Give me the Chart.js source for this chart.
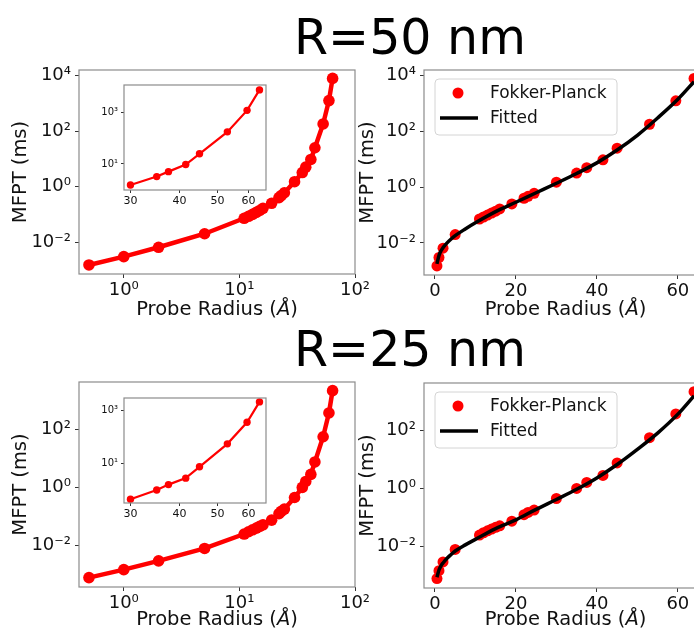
<!DOCTYPE html>
<html>
<head>
<meta charset="utf-8">
<script src="https://cdn.jsdelivr.net/npm/chart.js@4.4.0/dist/chart.umd.min.js"></script>
<style>
  html, body { margin: 0; padding: 0; width: 694px; height: 632px; overflow: hidden; background: #fff; }
  .box { position: absolute; }
  .title { position: absolute; left: 110px; width: 600px; text-align: center; font-family: 'DejaVu Sans', sans-serif; font-size: 49px; line-height: 49px; color: #000; }
</style>
</head>
<body>
<div class="title" style="top:13px">R=50 nm</div>
<div class="title" style="top:325px">R=25 nm</div>

<div class="box" style="left:0;top:60px"><canvas id="tl" width="380" height="260"></canvas></div>
<div class="box" style="left:350px;top:60px"><canvas id="tr" width="370" height="260"></canvas></div>
<div class="box" style="left:0;top:372px"><canvas id="bl" width="380" height="260"></canvas></div>
<div class="box" style="left:350px;top:372px"><canvas id="br" width="370" height="260"></canvas></div>
<div class="box" style="left:95px;top:75px"><canvas id="tlInset" width="185" height="135"></canvas></div>
<div class="box" style="left:95px;top:388px"><canvas id="blInset" width="185" height="135"></canvas></div>

<script>
// probe radius (Å) and MFPT (ms)
const radius = [0.5, 1, 2, 5, 11, 12, 13, 14, 15, 16, 19, 22, 23, 24.5, 30, 35, 37.5, 41.5, 45, 53, 59.5, 64];
const mfpt50 = [0.0015, 0.003, 0.0065, 0.02, 0.072, 0.085, 0.1, 0.118, 0.138, 0.165, 0.25, 0.4, 0.47, 0.6,
                1.5, 3.2, 5.0, 9.5, 25, 180, 1250, 7900];
const mfpt25 = [0.0008, 0.0015, 0.003, 0.008, 0.025, 0.03, 0.035, 0.04, 0.046, 0.052, 0.075, 0.125, 0.15, 0.18,
                0.45, 1.0, 1.6, 2.8, 7.5, 55, 360, 2100];

// fitted curves
const fitRadius = [0.5, 1, 1.5, 2, 3, 4, 5, 7.5, 10, 15, 20, 25, 30, 35, 40, 45, 50, 55, 60, 64];
const fit50 = [0.00178, 0.00355, 0.00525, 0.00676, 0.01, 0.0138, 0.0182, 0.0316, 0.0525, 0.132, 0.288, 0.631,
               1.38, 3.09, 7.41, 21.4, 72.4, 302, 1413, 6026];
const fit25 = [0.00089, 0.00158, 0.00219, 0.00275, 0.00398, 0.00537, 0.00708, 0.0115, 0.0178, 0.0417, 0.0832, 0.191,
               0.417, 0.933, 2.29, 6.61, 21.9, 79.4, 355, 1514];

// ticks
const logXTicks = [1, 10, 100];
const logXLabels = ['10⁰', '10¹', '10²'];
const logYTicks = [1e-2, 1, 1e2, 1e4];
const logYLabels = ['10⁻²', '10⁰', '10²', '10⁴'];
const linXTicks = [0, 20, 40, 60];
const linXLabels = ['0', '20', '40', '60'];
const insetXTicks = [30, 40, 50, 60];
const insetXLabels = ['30', '40', '50', '60'];
const insetYTicks = [10, 1000];
const insetYLabels = ['10¹', '10³'];
const insetStart = 30;

// x label is split so the Ångström sign can be italic
const xTitleParts = ['Probe Radius (', 'Å', ')'];
const yTitle = 'MFPT (ms)';
const seriesLabels = ['Fokker-Planck', 'Fitted'];

Chart.defaults.font.family = "'DejaVu Sans', sans-serif";
Chart.defaults.color = '#111';

const pts = (xs, ys) => xs.map((x, i) => ({ x: x, y: ys[i] }));

function axis(type, min, max, ticks, labels, size, extent, title, titlePad, tickPad) {
  return {
    type: type, min: min, max: max, bounds: 'data',
    afterBuildTicks: s => { s.ticks = ticks.filter(v => v >= min && v <= max).map(v => ({ value: v })); },
    afterFit: s => {
      if (s.isHorizontal()) s.height = extent; else s.width = extent;
      s.paddingLeft = s.paddingRight = s.paddingTop = s.paddingBottom = 0;
    },
    ticks: {
      autoSkip: false, maxRotation: 0, padding: tickPad,
      font: { size: size }, color: '#111',
      callback: (v, i) => labels[ticks.indexOf(v)]
    },
    grid: { drawOnChartArea: false, drawTicks: true, tickLength: size > 14 ? 4 : 3, tickColor: '#333' },
    border: { display: false },
    title: title ? { display: true, text: title, font: { size: 19.5 }, color: '#111', padding: titlePad } : { display: false }
  };
}

// grey frame around the plot area
const framePlugin = {
  id: 'frame',
  afterDatasetsDraw(chart) {
    const a = chart.chartArea, ctx = chart.ctx;
    ctx.save();
    ctx.strokeStyle = '#8c8c8c';
    ctx.lineWidth = 1.2;
    ctx.strokeRect(a.left, a.top, a.right - a.left, a.bottom - a.top);
    ctx.restore();
  }
};

// x axis title with italic Å
const xLabelPlugin = {
  id: 'xLabel',
  afterDraw(chart, args, opts) {
    const a = chart.chartArea, ctx = chart.ctx;
    const fonts = ["19.5px 'DejaVu Sans'", "italic 19.5px 'DejaVu Sans'", "19.5px 'DejaVu Sans'"];
    ctx.save();
    ctx.fillStyle = '#111';
    ctx.textBaseline = 'alphabetic';
    const widths = xTitleParts.map((t, i) => { ctx.font = fonts[i]; return ctx.measureText(t).width; });
    let x = (a.left + a.right) / 2 - widths.reduce((p, c) => p + c, 0) / 2;
    xTitleParts.forEach((t, i) => {
      ctx.font = fonts[i];
      ctx.fillText(t, x, a.bottom + opts.offset);
      x += widths[i];
    });
    ctx.restore();
  }
};

// legend box inside the plot area
const legendPlugin = {
  id: 'boxLegend',
  afterDraw(chart) {
    const a = chart.chartArea, ctx = chart.ctx;
    const ds = chart.data.datasets;
    const x = a.left + 11, y = a.top + 9, w = 182, h = 56, r = 4;
    ctx.save();
    ctx.beginPath();
    ctx.moveTo(x + r, y);
    ctx.arcTo(x + w, y, x + w, y + h, r);
    ctx.arcTo(x + w, y + h, x, y + h, r);
    ctx.arcTo(x, y + h, x, y, r);
    ctx.arcTo(x, y, x + w, y, r);
    ctx.closePath();
    ctx.fillStyle = 'rgba(255,255,255,0.85)';
    ctx.fill();
    ctx.strokeStyle = '#d4d4d4';
    ctx.lineWidth = 1;
    ctx.stroke();
    ctx.fillStyle = ds[0].pointBackgroundColor;
    ctx.beginPath();
    ctx.arc(x + 23, y + 14, 5.5, 0, Math.PI * 2);
    ctx.fill();
    ctx.strokeStyle = ds[1].borderColor;
    ctx.lineWidth = 3.5;
    ctx.beginPath();
    ctx.moveTo(x + 5, y + 39);
    ctx.lineTo(x + 43, y + 39);
    ctx.stroke();
    ctx.fillStyle = '#111';
    ctx.font = "17px 'DejaVu Sans'";
    ctx.textBaseline = 'middle';
    ctx.fillText(ds[0].label, x + 55, y + 15);
    ctx.fillText(ds[1].label, x + 55, y + 40);
    ctx.restore();
  }
};

function baseOptions(padTop, padRight, labelOffset) {
  return {
    responsive: false, animation: false, devicePixelRatio: 1,
    layout: { padding: { top: padTop, right: padRight, left: 0, bottom: 0 } },
    plugins: { legend: { display: false }, tooltip: { enabled: false }, xLabel: { offset: labelOffset } }
  };
}

function logPanel(id, ys, yMin, yMax, padTop, xH, labelOffset) {
  const opts = baseOptions(padTop, 25, labelOffset);
  opts.scales = {
    x: axis('logarithmic', 0.41, 100, logXTicks, logXLabels, 18, xH, null, null, 2),
    y: axis('logarithmic', yMin, yMax, logYTicks, logYLabels, 18, 79, yTitle, { top: 9.6, bottom: 0 }, 4)
  };
  new Chart(document.getElementById(id), {
    type: 'line',
    data: { datasets: [{
      data: pts(radius, ys), borderColor: '#ff0000', backgroundColor: '#ff0000',
      borderWidth: 4.5, pointRadius: 5.8, pointBackgroundColor: '#ff0000', pointBorderWidth: 0
    }] },
    options: opts,
    plugins: [framePlugin, xLabelPlugin]
  });
}

function fitPanel(id, ys, fit, yMin, yMax, padTop, xH, labelOffset) {
  const opts = baseOptions(padTop, 13, labelOffset);
  opts.scales = {
    x: axis('linear', -2.7, 67.2, linXTicks, linXLabels, 18, xH, null, null, 2),
    y: axis('logarithmic', yMin, yMax, logYTicks, logYLabels, 18, 74, yTitle, { top: 6.6, bottom: 0 }, 4)
  };
  new Chart(document.getElementById(id), {
    type: 'line',
    data: { datasets: [
      { label: seriesLabels[0], data: pts(radius, ys), showLine: false, order: 1,
        pointRadius: 5.5, pointBackgroundColor: '#ff0000', pointBorderWidth: 0, borderColor: '#ff0000' },
      { label: seriesLabels[1], data: pts(fitRadius, fit), order: 0,
        borderColor: '#000', borderWidth: 3.5, pointRadius: 0, cubicInterpolationMode: 'monotone' }
    ] },
    options: opts,
    plugins: [framePlugin, xLabelPlugin, legendPlugin]
  });
}

function insetPanel(id, ys, yMin, yMax, padTop, xH) {
  const i0 = radius.indexOf(insetStart);
  const opts = baseOptions(padTop, 14, 0);
  opts.scales = {
    x: axis('logarithmic', 28.88, 66.5, insetXTicks, insetXLabels, 11, xH, null, null, 2),
    y: axis('logarithmic', Math.pow(10, yMin), Math.pow(10, yMax), insetYTicks, insetYLabels, 10, 29, null, null, 3)
  };
  new Chart(document.getElementById(id), {
    type: 'line',
    data: { datasets: [{
      data: pts(radius.slice(i0), ys.slice(i0)), borderColor: '#ff0000',
      borderWidth: 2.2, pointRadius: 3.7, pointBackgroundColor: '#ff0000', pointBorderWidth: 0
    }] },
    options: opts,
    plugins: [framePlugin]
  });
}

logPanel('tl', mfpt50, Math.pow(10, -3.15), Math.pow(10, 4.2), 10, 46, 41);
fitPanel('tr', mfpt50, fit50, Math.pow(10, -3.15), Math.pow(10, 4.2), 10, 45, 40);
logPanel('bl', mfpt25, Math.pow(10, -3.42), Math.pow(10, 3.62), 10, 45, 38);
fitPanel('br', mfpt25, fit25, Math.pow(10, -3.42), Math.pow(10, 3.62), 11, 44, 37);
insetPanel('tlInset', mfpt50, -0.02, 4.09, 10, 20);
insetPanel('blInset', mfpt25, -0.49, 3.47, 10, 20);
</script>
</body>
</html>
